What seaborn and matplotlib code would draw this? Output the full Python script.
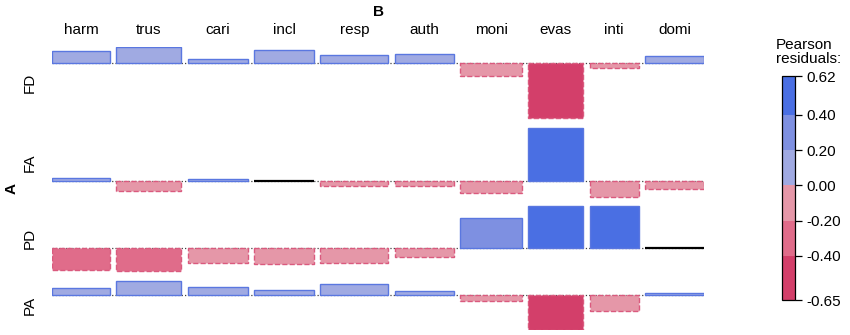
import matplotlib
matplotlib.use("Agg")
import matplotlib.pyplot as plt
import matplotlib.colors as mcolors
import matplotlib.cm as cm
import numpy as np
import seaborn as sns

sns.set_theme(style="white")
plt.rcParams['font.family'] = ['Liberation Sans', 'DejaVu Sans']
plt.rcParams['text.color'] = 'black'
plt.rcParams['ytick.color'] = 'black'
plt.rcParams['ytick.labelcolor'] = 'black'

rows = ["FD", "FA", "PD", "PA"]
cols = ["harm", "trus", "cari", "incl", "resp", "auth", "moni", "evas", "inti", "domi"]

# Pearson residuals per row (A) and column (B)
resid_fd = [0.14, 0.19, 0.05, 0.15, 0.10, 0.11, -0.15, -0.65, -0.06, 0.09]
resid_fa = [0.03, -0.12, 0.02, 0.00, -0.06, -0.06, -0.14, 0.62, -0.19, -0.10]
resid_pd = [-0.26, -0.27, -0.17, -0.19, -0.17, -0.11, 0.35, 0.49, 0.49, 0.00]
resid_pa = [0.08, 0.17, 0.10, 0.06, 0.13, 0.05, -0.07, -0.41, -0.19, 0.02]

# relative bar widths (sqrt of expected counts)
col_sqrt_expected = [58, 65, 60, 60, 68, 59, 62, 55, 49, 59]

legend_bounds = [-0.65, -0.40, -0.20, 0.00, 0.20, 0.40, 0.62]
shade_colors = sns.color_palette(["#D33F6A", "#E06C8A", "#E597A8",
                                  "#A0AAE2", "#7E90E1", "#4A6FE3"])

resid = np.array([resid_fd, resid_fa, resid_pd, resid_pa])
widths = np.array(col_sqrt_expected, dtype=float)

gap_x = 6.3
gap_y = 0.113
lefts = np.concatenate([[0], np.cumsum(widths + gap_x)[:-1]])
total_w = widths.sum() + gap_x * (len(cols) - 1)

tops = np.maximum(resid.max(axis=1), 0)
bots = np.minimum(resid.min(axis=1), 0)
baselines = []
pos = 0.0
for t, b in zip(tops, bots):
    baselines.append(-(pos + t))
    pos += t - b + gap_y
total_h = pos - gap_y

cmap = mcolors.ListedColormap(shade_colors)
norm = mcolors.BoundaryNorm(legend_bounds, cmap.N)

fig = plt.figure(figsize=(8.5, 3.35), dpi=100)
ax = fig.add_axes([52 / 850, 5 / 335, 652 / 850, 283 / 335])
ax.set_xlim(0, total_w)
ax.set_ylim(-total_h, 0)
ax.axis('off')

for i, r in enumerate(rows):
    base = baselines[i]
    ax.hlines(base, 0, total_w, colors='0.25', linestyles=':', lw=0.9, zorder=0)
    for j, c in enumerate(cols):
        v = resid[i, j]
        x0 = lefts[j]
        if v == 0:
            ax.hlines(base, x0, x0 + widths[j], colors='black', lw=1.6, zorder=3)
            continue
        fc = cmap(norm(np.clip(v, -0.649, 0.619)))
        if v > 0:
            ec, ls = "#5A77E0", '-'
        else:
            ec, ls = "#DA5A7E", '--'
        ax.bar(x0, v, width=widths[j], bottom=base, align='edge',
               color=fc, edgecolor=ec, linewidth=1.0, linestyle=ls, zorder=2)
    ax.annotate(r, xy=(0, (2 * base + tops[i] + bots[i]) / 2), xycoords='data',
                xytext=(-22 * 0.72, 0), textcoords='offset points',
                rotation=90, ha='center', va='center', fontsize=11)

for j, c in enumerate(cols):
    ax.annotate(c, xy=(lefts[j] + widths[j] / 2, 1), xycoords=('data', 'axes fraction'),
                xytext=(0, 17 * 0.72), textcoords='offset points',
                ha='center', va='center', fontsize=11)

fig.text(378 / 850, 1 - 12 / 335, "B", ha='center', va='center',
         fontsize=11, fontweight='bold')
fig.text(12 / 850, 1 - 188 / 335, "A", ha='center', va='center',
         fontsize=11, fontweight='bold', rotation=90)

cax = fig.add_axes([782 / 850, 35 / 335, 13 / 850, 224 / 335])
sm = cm.ScalarMappable(norm=norm, cmap=cmap)
cb = fig.colorbar(sm, cax=cax, ticks=legend_bounds, spacing='proportional')
cb.ax.set_yticklabels([f"{b:.2f}" for b in legend_bounds])
cb.outline.set_linewidth(0.9)
cb.outline.set_edgecolor('black')
cax.tick_params(axis='y', length=5, width=0.9, labelsize=11, pad=3,
                direction='out', color='black', labelcolor='black', right=True)
fig.text(776 / 850, 1 - 52 / 335, "Pearson\nresiduals:", ha='left', va='center',
         fontsize=11, linespacing=0.95)

fig.savefig("out.png", dpi=100)
